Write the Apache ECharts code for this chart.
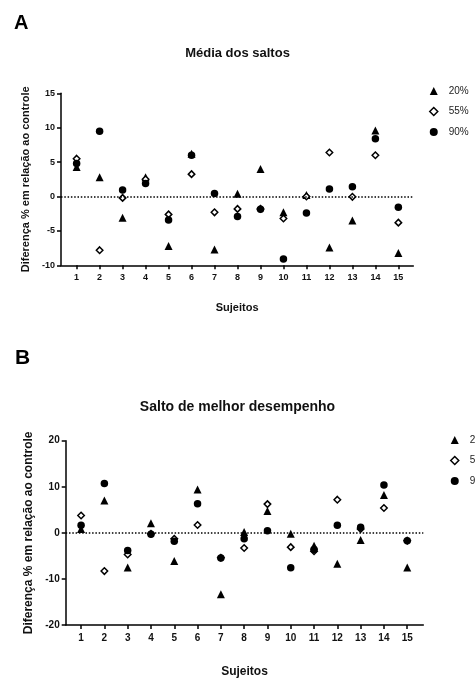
<!DOCTYPE html>
<html>
<head>
<meta charset="utf-8">
<script src="https://cdn.jsdelivr.net/npm/echarts@6/dist/echarts.min.js"></script>
<style>
  html, body { margin: 0; padding: 0; background: #fff; }
  #chart { width: 475px; height: 679px; }
</style>
</head>
<body>
<div id="chart"></div>
<script>
// sujeitos 1..15
const sujeitos = [1, 2, 3, 4, 5, 6, 7, 8, 9, 10, 11, 12, 13, 14, 15];
const nomes = ['20%', '55%', '90%'];

// A - Média dos saltos
const mediaA20 = [4.3, 2.8, -3.1, 2.8, -7.2, 6.2, -7.7, 0.4, 4.0, -2.3, 0.2, -7.4, -3.5, 9.6, -8.2];
const mediaA55 = [5.5, -7.8, -0.2, 2.5, -2.6, 3.25, -2.3, -1.8, -1.8, -3.2, 0.0, 6.4, -0.05, 6.0, -3.8];
const mediaA90 = [4.8, 9.5, 0.95, 1.9, -3.4, 6.0, 0.45, -2.9, -1.85, -9.1, -2.4, 1.1, 1.4, 8.4, -1.55];

// B - Salto de melhor desempenho
const melhorB20 = [0.85, 7.0, -7.5, 2.1, -6.1, 9.4, -13.3, 0.2, 4.75, -0.2, -2.8, -6.7, -1.56, 8.2, -7.5];
const melhorB55 = [3.76, -8.3, -4.7, -0.2, -1.3, 1.7, -5.4, -3.3, 6.24, -3.1, -4.0, 7.2, 0.85, 5.4, -1.7];
const melhorB90 = [1.63, 10.7, -3.83, -0.28, -1.8, 6.3, -5.46, -1.3, 0.43, -7.6, -3.6, 1.63, 1.2, 10.4, -1.7];

const fonte = 'Liberation Sans, Arial, sans-serif';

function pares(vals) {
  return sujeitos.map((s, i) => [s, vals[i]]);
}

function serie(nome, vals, idx, linhaZero) {
  const s = {
    name: nome,
    type: 'scatter',
    xAxisIndex: idx,
    yAxisIndex: idx,
    data: pares(vals)
  };
  if (nome === '20%') {
    s.symbol = 'triangle';
    s.symbolSize = 8;
    s.itemStyle = { color: '#000', opacity: 1 };
  } else if (nome === '55%') {
    s.symbol = 'diamond';
    s.symbolSize = 6.5;
    s.itemStyle = { color: '#fff', borderColor: '#000', borderWidth: 1.5, opacity: 1 };
  } else {
    s.symbol = 'circle';
    s.symbolSize = 7.5;
    s.itemStyle = { color: '#000', opacity: 1 };
  }
  if (linhaZero) {
    s.markLine = {
      silent: true,
      symbol: 'none',
      label: { show: false },
      lineStyle: { color: '#000', type: [1.5, 1.8], width: 1.5 },
      data: [{ yAxis: 0 }]
    };
  }
  return s;
}

function eixoX(idx, min, max, gap, fs) {
  return {
    type: 'value',
    gridIndex: idx,
    min: min,
    max: max,
    name: 'Sujeitos',
    nameLocation: 'middle',
    nameGap: gap,
    nameTextStyle: { fontFamily: fonte, fontWeight: 'bold', fontSize: fs + 2, color: '#111' },
    axisLine: { show: true, onZero: false, lineStyle: { color: '#000', width: 1.5 } },
    axisTick: { show: true, customValues: sujeitos, length: 4, lineStyle: { color: '#000', width: 1.5 } },
    axisLabel: { customValues: sujeitos, margin: 8, fontFamily: fonte, fontWeight: 'bold', fontSize: fs, color: '#111' },
    splitLine: { show: false }
  };
}

function eixoY(idx, min, max, step, gap, fs) {
  return {
    type: 'value',
    gridIndex: idx,
    min: min,
    max: max,
    interval: step,
    name: 'Diferença % em relação ao controle',
    nameLocation: 'middle',
    nameGap: gap,
    nameTextStyle: { fontFamily: fonte, fontWeight: 'bold', fontSize: fs + 2, color: '#111' },
    axisLine: { show: true, onZero: false, lineStyle: { color: '#000', width: 1.5 } },
    axisTick: { show: true, length: 4, lineStyle: { color: '#000', width: 1.5 } },
    axisLabel: { margin: 6, fontFamily: fonte, fontWeight: 'bold', fontSize: fs, color: '#111' },
    splitLine: { show: false }
  };
}

function legenda(left, top) {
  return {
    orient: 'vertical',
    left: left,
    top: top,
    padding: 0,
    itemWidth: 8,
    itemHeight: 8,
    itemGap: 10.5,
    data: [
      { name: '20%' },
      { name: '55%', itemStyle: { borderWidth: 1.5 } },
      { name: '90%' }
    ],
    textStyle: { fontFamily: fonte, fontSize: 10, color: '#222', padding: [0, 0, 0, 6] }
  };
}

const chart = echarts.init(document.getElementById('chart'));

chart.setOption({
  backgroundColor: '#fff',
  animation: false,
  title: [
    { text: 'A', left: 14, top: 13, padding: 0, textStyle: { fontFamily: fonte, fontWeight: 'bold', fontSize: 20, color: '#000' } },
    { text: 'Média dos saltos', left: 'center', top: 47, padding: 0, textStyle: { fontFamily: fonte, fontWeight: 'bold', fontSize: 13, color: '#111' } },
    { text: 'B', left: 15, top: 348, padding: 0, textStyle: { fontFamily: fonte, fontWeight: 'bold', fontSize: 21, color: '#000' } },
    { text: 'Salto de melhor desempenho', left: 'center', top: 400, padding: [0, 0, 0, 13], textStyle: { fontFamily: fonte, fontWeight: 'bold', fontSize: 14, color: '#111' } }
  ],
  legend: [legenda(429, 86), legenda(450, 435)],
  grid: [
    { left: 61, top: 93.3, width: 352.3, height: 172 },
    { left: 65.7, top: 440.7, width: 357.6, height: 186.6 }
  ],
  xAxis: [eixoX(0, 0.32, 15.65, 37, 9), eixoX(1, 0.34, 15.69, 41, 10)],
  yAxis: [eixoY(0, -10, 15, 5, 26, 9), eixoY(1, -20, 20, 10, 30, 10)],
  series: [
    serie('20%', mediaA20, 0, true),
    serie('55%', mediaA55, 0, false),
    serie('90%', mediaA90, 0, false),
    serie('20%', melhorB20, 1, true),
    serie('55%', melhorB55, 1, false),
    serie('90%', melhorB90, 1, false)
  ]
});
</script>
</body>
</html>
